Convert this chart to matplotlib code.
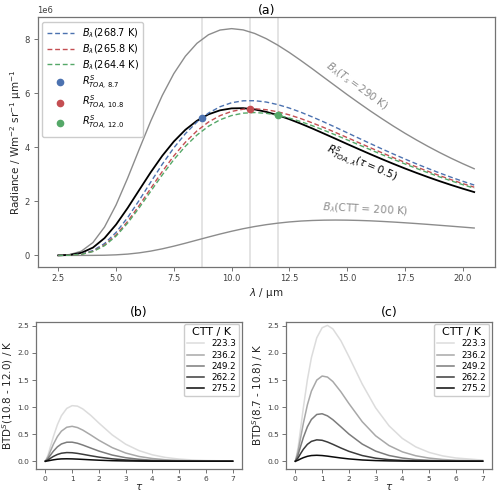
import numpy as np
import matplotlib
matplotlib.use("Agg")
import matplotlib.pyplot as plt

# ----------------------------
# data (radiances in units of 1e6)
# ----------------------------
wavelength = [2.5, 3.0, 3.5, 4.0, 4.5, 5.0, 5.5, 6.0, 6.5, 7.0, 7.5, 8.0, 8.5, 9.0,
              9.5, 10.0, 10.5, 11.0, 11.5, 12.0, 12.5, 13.0, 13.5, 14.0, 14.5, 15.0,
              15.5, 16.0, 16.5, 17.0, 17.5, 18.0, 18.5, 19.0, 19.5, 20.0, 20.5]
rad_290 = [0.003, 0.032, 0.158, 0.477, 1.051, 1.869, 2.861, 3.927, 4.973, 5.924, 6.734,
           7.378, 7.855, 8.173, 8.347, 8.399, 8.352, 8.220, 8.027, 7.787, 7.514, 7.217,
           6.908, 6.589, 6.273, 5.957, 5.652, 5.353, 5.067, 4.790, 4.526, 4.276, 4.038,
           3.812, 3.599, 3.399, 3.210]
rad_200 = [0.0, 0.0, 0.0003, 0.002, 0.007, 0.022, 0.049, 0.095, 0.160, 0.244, 0.343,
           0.452, 0.567, 0.681, 0.792, 0.895, 0.989, 1.070, 1.139, 1.195, 1.240, 1.273,
           1.294, 1.306, 1.310, 1.306, 1.296, 1.281, 1.260, 1.236, 1.209, 1.180, 1.149,
           1.116, 1.083, 1.049, 1.015]
rad_268 = [0.001, 0.009, 0.051, 0.179, 0.439, 0.852, 1.399, 2.039, 2.715, 3.376, 3.984,
           4.509, 4.941, 5.272, 5.507, 5.655, 5.726, 5.730, 5.680, 5.585, 5.457, 5.302,
           5.127, 4.940, 4.745, 4.544, 4.343, 4.144, 3.947, 3.756, 3.571, 3.391, 3.220,
           3.054, 2.896, 2.747, 2.606]
rad_265 = [0.0005, 0.007, 0.044, 0.154, 0.385, 0.758, 1.258, 1.850, 2.481, 3.106, 3.685,
           4.192, 4.611, 4.940, 5.177, 5.333, 5.415, 5.432, 5.397, 5.318, 5.205, 5.066,
           4.907, 4.734, 4.552, 4.365, 4.178, 3.990, 3.805, 3.623, 3.447, 3.278, 3.114,
           2.956, 2.805, 2.662, 2.527]
rad_264 = [0.0004, 0.007, 0.040, 0.144, 0.361, 0.715, 1.195, 1.763, 2.374, 2.981, 3.547,
           4.043, 4.458, 4.784, 5.023, 5.181, 5.268, 5.291, 5.262, 5.191, 5.086, 4.954,
           4.801, 4.635, 4.461, 4.281, 4.099, 3.918, 3.737, 3.561, 3.389, 3.223, 3.063,
           2.909, 2.762, 2.622, 2.489]
rad_toa = [0.002, 0.020, 0.096, 0.290, 0.640, 1.142, 1.755, 2.419, 3.079, 3.689, 4.219,
           4.653, 4.987, 5.225, 5.374, 5.446, 5.454, 5.406, 5.317, 5.193, 5.045, 4.878,
           4.699, 4.510, 4.320, 4.127, 3.938, 3.751, 3.569, 3.392, 3.221, 3.058, 2.901,
           2.751, 2.609, 2.474, 2.346]
channel_wl = [8.7, 10.8, 12.0]
channel_rad = [5.085, 5.432, 5.191]
channel_labels = [r"$R^{S}_{TOA,\,8.7}$", r"$R^{S}_{TOA,\,10.8}$", r"$R^{S}_{TOA,\,12.0}$"]
planck_labels = [r"$B_\lambda$(268.7 K)", r"$B_\lambda$(265.8 K)", r"$B_\lambda$(264.4 K)"]

tau = [0, 0.1, 0.2, 0.3, 0.45, 0.6, 0.8, 1.0, 1.2, 1.4, 1.7, 2.0, 2.5, 3.0, 3.5, 4.0,
       4.5, 5.0, 5.5, 6.0, 7.0]
ctt_labels = ["223.3", "236.2", "249.2", "262.2", "275.2"]

btd_b_223 = [0, 0.116, 0.285, 0.455, 0.675, 0.841, 0.976, 1.027, 1.018, 0.966, 0.846,
             0.706, 0.486, 0.315, 0.196, 0.118, 0.069, 0.040, 0.023, 0.013, 0.004]
btd_b_236 = [0, 0.082, 0.199, 0.313, 0.456, 0.556, 0.628, 0.645, 0.622, 0.575, 0.484,
             0.388, 0.251, 0.152, 0.088, 0.050, 0.027, 0.015, 0.008, 0.004, 0.001]
btd_b_249 = [0, 0.050, 0.119, 0.186, 0.266, 0.319, 0.351, 0.352, 0.332, 0.299, 0.243,
             0.188, 0.114, 0.065, 0.036, 0.019, 0.010, 0.005, 0.003, 0.001, 0.0]
btd_b_262 = [0, 0.024, 0.058, 0.089, 0.125, 0.148, 0.160, 0.157, 0.145, 0.128, 0.101,
             0.076, 0.044, 0.024, 0.012, 0.006, 0.003, 0.002, 0.001, 0.0, 0.0]
btd_b_275 = [0, 0.007, 0.017, 0.026, 0.037, 0.043, 0.045, 0.043, 0.039, 0.034, 0.026,
             0.019, 0.010, 0.005, 0.003, 0.001, 0.001, 0.0, 0.0, 0.0, 0.0]

btd_c_223 = [0, 0.247, 0.615, 0.994, 1.507, 1.914, 2.281, 2.466, 2.510, 2.446, 2.228,
             1.935, 1.425, 0.987, 0.655, 0.421, 0.265, 0.163, 0.099, 0.060, 0.021]
btd_c_236 = [0, 0.180, 0.442, 0.703, 1.043, 1.296, 1.499, 1.574, 1.555, 1.473, 1.284,
             1.067, 0.730, 0.470, 0.290, 0.173, 0.101, 0.058, 0.033, 0.018, 0.006]
btd_c_249 = [0, 0.117, 0.281, 0.441, 0.637, 0.772, 0.864, 0.877, 0.838, 0.768, 0.637,
             0.503, 0.317, 0.187, 0.106, 0.059, 0.031, 0.017, 0.009, 0.004, 0.001]
btd_c_262 = [0, 0.061, 0.144, 0.222, 0.312, 0.367, 0.395, 0.387, 0.355, 0.313, 0.245,
             0.183, 0.105, 0.056, 0.029, 0.015, 0.007, 0.004, 0.002, 0.001, 0.0]
btd_c_275 = [0, 0.019, 0.044, 0.066, 0.091, 0.105, 0.110, 0.105, 0.094, 0.080, 0.060,
             0.043, 0.023, 0.012, 0.006, 0.003, 0.001, 0.001, 0.0, 0.0, 0.0]

# ----------------------------
# style
# ----------------------------
plt.rcParams.update({
    "font.family": "DejaVu Sans",
    "font.size": 6.5,
    "axes.edgecolor": "0.45",
    "axes.linewidth": 0.9,
    "axes.labelcolor": "0.15",
    "axes.labelpad": 2,
    "axes.titlepad": 4,
    "xtick.color": "0.45",
    "ytick.color": "0.45",
    "xtick.labelcolor": "0.25",
    "ytick.labelcolor": "0.25",
    "xtick.labelsize": 6,
    "ytick.labelsize": 6,
    "xtick.major.size": 3,
    "ytick.major.size": 3,
    "xtick.major.pad": 2.5,
    "ytick.major.pad": 2.5,
    "xtick.major.width": 0.7,
    "ytick.major.width": 0.7,
    "axes.titlesize": 9,
    "axes.labelsize": 7.5,
    "legend.fontsize": 7,
})

BLUE, RED, GREEN = "#4c72b0", "#c44e52", "#55a868"
GREYS = ["#dcdcdc", "#a8a8a8", "#7c7c7c", "#3c3c3c", "#0a0a0a"]

fig = plt.figure(figsize=(5, 4.94), dpi=100)
ax_a = fig.add_axes([0.075, 0.46, 0.915, 0.505])
ax_b = fig.add_axes([0.072, 0.051, 0.412, 0.298])
ax_c = fig.add_axes([0.572, 0.051, 0.412, 0.298])

# ----------------------------
# (a) spectra
# ----------------------------
wl = np.array(wavelength)
scale = 1e6
for w in channel_wl:
    ax_a.axvline(w, color="#dddddd", lw=1.1, zorder=0)

ax_a.plot(wl, np.array(rad_290) * scale, color="0.55", lw=1.0)
ax_a.plot(wl, np.array(rad_200) * scale, color="0.55", lw=1.0)
ax_a.plot(wl, np.array(rad_toa) * scale, color="black", lw=1.3)
for vals, col, lab in zip([rad_268, rad_265, rad_264], [BLUE, RED, GREEN], planck_labels):
    ax_a.plot(wl, np.array(vals) * scale, color=col, lw=1.0, ls=(0, (3.5, 2)), label=lab)
for w, r, col, lab in zip(channel_wl, channel_rad, [BLUE, RED, GREEN], channel_labels):
    ax_a.plot([w], [r * scale], "o", color=col, ms=4.5, ls="none", label=lab, zorder=5)

ax_a.text(15.4, 6.28e6, r"$B_\lambda(T_s = 290$ K)", color="0.55", fontsize=7.5,
          rotation=-36, ha="center", va="center")
ax_a.text(15.6, 3.36e6, r"$R^{S}_{TOA,\lambda}(\tau = 0.5)$", color="black", fontsize=7.5,
          rotation=-23, ha="center", va="center")
ax_a.text(15.8, 1.69e6, r"$B_\lambda$(CTT = 200 K)", color="0.55", fontsize=7.5,
          rotation=-3, ha="center", va="center")

ax_a.set_title("(a)", pad=2.5)
ax_a.set_xlabel(r"$\lambda$ / µm")
ax_a.set_ylabel(r"Radiance / Wm$^{-2}$ sr$^{-1}$ µm$^{-1}$", labelpad=0.5)
ax_a.set_xticks([2.5, 5.0, 7.5, 10.0, 12.5, 15.0, 17.5, 20.0])
ax_a.legend(loc="upper left", fontsize=7, handlelength=2.8, labelspacing=0.22,
            borderpad=0.45, framealpha=1.0)

# ----------------------------
# (b), (c) brightness temperature differences
# ----------------------------
t = np.array(tau)
panels = [
    (ax_b, [btd_b_223, btd_b_236, btd_b_249, btd_b_262, btd_b_275],
     "(b)", r"BTD$^{S}$(10.8 - 12.0) / K"),
    (ax_c, [btd_c_223, btd_c_236, btd_c_249, btd_c_262, btd_c_275],
     "(c)", r"BTD$^{S}$(8.7 - 10.8) / K"),
]
for ax, curves, title, ylabel in panels:
    for vals, col, lab in zip(curves, GREYS, ctt_labels):
        ax.plot(t, vals, color=col, lw=1.1, label=lab)
    ax.set_ylim(-0.14, 2.58)
    ax.set_yticks([0.0, 0.5, 1.0, 1.5, 2.0, 2.5])
    ax.set_xticks(range(8))
    ax.tick_params(labelsize=5.4, pad=2)
    ax.set_title(title)
    ax.set_xlabel(r"$\tau$", labelpad=0.5)
    ax.set_ylabel(ylabel, labelpad=1.5)
    ax.legend(loc="upper right", title="CTT / K", title_fontsize=8, fontsize=6.3,
              handlelength=2.0, labelspacing=0.25, borderaxespad=0.3, borderpad=0.35,
              framealpha=1.0)

fig.savefig("out.png", dpi=100)
